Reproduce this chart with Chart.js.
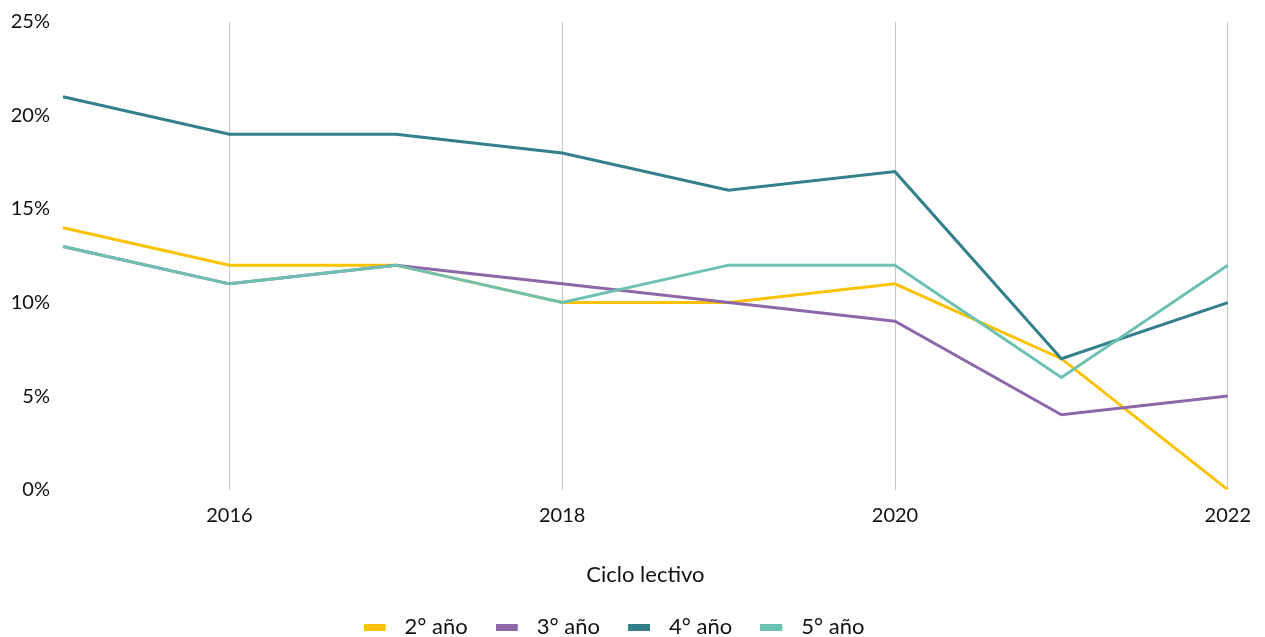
<!DOCTYPE html>
<html>
<head>
<meta charset="utf-8">
<script src="https://cdn.jsdelivr.net/npm/chart.js@4"></script>
<style>
    html, body { margin: 0; padding: 0; background: #fff; overflow: hidden; }
    #wrap { width: 1265px; height: 648px; }
</style>
</head>
<body>
<div id="wrap"><canvas id="grafico"></canvas></div>
<script>
const anos = ["2015", "2016", "2017", "2018", "2019", "2020", "2021", "2022"];
const segundo = [14, 12, 12, 10, 10, 11, 7, 0];
const tercero = [13, 11, 12, 11, 10, 9, 4, 5];
const cuarto = [21, 19, 19, 18, 16, 17, 7, 10];
const quinto = [13, 11, 12, 10, 12, 12, 6, 12];
const ticksY = [0, 5, 10, 15, 20, 25];

const fuente = { family: "Lato, 'Open Sans', sans-serif", size: 20 };
const fuenteTexto = { family: "Lato, 'Open Sans', sans-serif", size: 22 };

// muestra de la leyenda: barra de 22px con hueco a la derecha
function muestra(color) {
    const c = document.createElement("canvas");
    c.width = 30;
    c.height = 7;
    const g = c.getContext("2d");
    g.fillStyle = color;
    g.fillRect(0, 0, 22, 7);
    return c;
}

function serie(nombre, datos, color, orden) {
    return {
        label: nombre,
        data: datos,
        borderColor: color,
        backgroundColor: color,
        borderWidth: 3,
        pointRadius: 0,
        pointStyle: muestra(color),
        tension: 0,
        fill: false,
        order: orden
    };
}

new Chart(document.getElementById("grafico"), {
    type: "line",
    data: {
        labels: anos,
        datasets: [
            serie("2° año", segundo, "#fcc200", 4),
            serie("3° año", tercero, "#8c68aa", 3),
            serie("4° año", cuarto, "#347f8c", 2),
            serie("5° año", quinto, "#6ec1b2", 1)
        ]
    },
    options: {
        responsive: true,
        maintainAspectRatio: false,
        animation: false,
        layout: { padding: { top: 22, right: 37, left: 0, bottom: 0 } },
        plugins: {
            legend: {
                position: "bottom",
                labels: {
                    font: fuenteTexto,
                    color: "#111",
                    usePointStyle: true,
                    pointStyleWidth: 30,
                    boxHeight: 7,
                    padding: 28,
                    sort: (a, b) => a.datasetIndex - b.datasetIndex
                }
            },
            tooltip: { enabled: false }
        },
        scales: {
            x: {
                offset: false,
                border: { display: false },
                grid: {
                    color: ctx => (ctx.index % 2 === 1 ? "#c8c8c8" : "transparent"),
                    lineWidth: 1,
                    drawTicks: false
                },
                ticks: {
                    font: fuente,
                    color: "#111",
                    padding: 14,
                    maxRotation: 0,
                    autoSkip: false,
                    callback: (v, i) => (i % 2 === 1 ? anos[i] : "")
                },
                title: {
                    display: true,
                    text: "Ciclo lectivo",
                    font: fuenteTexto,
                    color: "#111",
                    padding: { top: 20, bottom: 0 }
                }
            },
            y: {
                min: 0,
                max: 25,
                border: { display: false },
                grid: { display: false },
                afterFit: s => { s.width = 63; },
                afterBuildTicks: s => { s.ticks = ticksY.map(v => ({ value: v })); },
                ticks: {
                    font: fuente,
                    color: "#111",
                    padding: 5,
                    callback: v => v + "%"
                }
            }
        }
    }
});
</script>
</body>
</html>
